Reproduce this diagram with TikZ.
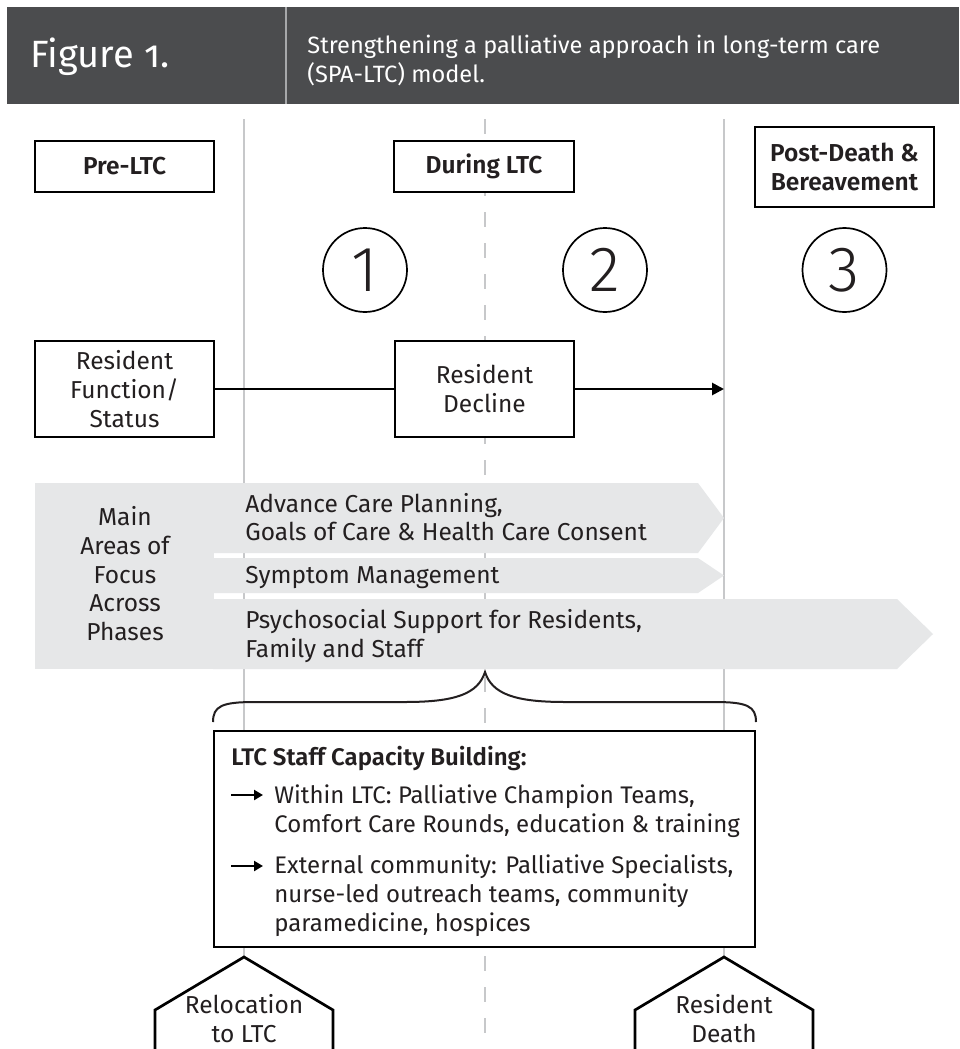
\documentclass[tikz,border=0pt]{standalone}
\usepackage{fontspec}
\setmainfont{Fira Sans}[BoldFont={Fira Sans SemiBold}]
\newfontfamily\lightfont{Fira Sans Light}
\usetikzlibrary{arrows.meta}
\definecolor{hdr}{HTML}{4B4C4E}
\definecolor{vline}{HTML}{C7C8CA}
\definecolor{band}{HTML}{E6E7E8}
\definecolor{ink}{HTML}{231F20}
\definecolor{divc}{HTML}{A7A8AA}
\begin{document}
\begin{tikzpicture}[x=0.5pt,y=-0.5pt,
  txt/.style={font=\fontsize{12.25}{14.5}\selectfont, text=ink, inner sep=0pt},
  boxtxt/.style={font=\fontsize{12}{14.5}\selectfont, text=ink, inner sep=0pt, anchor=base west},
  hdrtxt/.style={font=\fontsize{11.8}{14.5}\selectfont, text=white, inner sep=0pt, anchor=base west},
  phasebox/.style={draw=black, line width=1.35pt, fill=white, font=\bfseries\fontsize{12.25}{14.5}\selectfont, text=ink, align=center, inner sep=0pt, minimum width=89.5pt},
  stagebox/.style={draw=black, line width=1.35pt, fill=white, font=\fontsize{12.25}{14.5}\selectfont, text=ink, align=center, inner sep=0pt, minimum width=89.5pt, minimum height=48pt},
  numcirc/.style={circle, draw=black, line width=0.85pt, minimum size=42pt, inner sep=0pt, font=\lightfont\fontsize{32}{32}\selectfont, text=ink},
  guide/.style={draw=vline, line width=1pt},
  thick line/.style={draw=black, line width=1.35pt},
  lefttxt/.style={txt, anchor=base west},
  midtxt/.style={txt, anchor=base}
]
\useasboundingbox (0,0) rectangle (959,1049);
\fill[white] (0,0) rectangle (959,1049);
\begin{scope}
\clip (0,0) rectangle (959,1049);

% header
\fill[hdr] (7,7) rectangle (959,104);
\coordinate (divtop) at (286,7);
\coordinate (divbot) at (286,104);
\draw[divc, line width=0.75pt] (divtop) -- (divbot);
\node[hdrtxt, font=\fontsize{19}{21}\selectfont\addfontfeatures{Numbers=OldStyle}] (fig) at (30,67) {Figure 1.};
\node[hdrtxt] (title1) at (307,53) {Strengthening a palliative approach in long-term care};
\node[hdrtxt] (title2) at (307,82) {(SPA-LTC) model.};

% guide lines
\coordinate (g1t) at (244,119); \coordinate (g1b) at (244,1060);
\coordinate (g2t) at (724,119); \coordinate (g2b) at (724,1060);
\coordinate (g3t) at (485,119); \coordinate (g3b) at (485,1060);
\draw[guide] (g1t) -- (g1b);
\draw[guide] (g2t) -- (g2b);
\draw[guide, dash pattern=on 7.5pt off 8pt] (g3t) -- (g3b);

% phase labels
\node[phasebox, minimum height=25.5pt] (pre) at (124.5,166.5) {Pre-LTC};
\node[phasebox, minimum width=90pt, minimum height=25.5pt] (during) at (484,166.5) {During LTC};
\node[phasebox, minimum height=40pt] (post) at (844.5,167) {Post-Death \&\\Bereavement};

% circled numbers
\node[numcirc] (c1) at (365,270) {1};
\node[numcirc] (c2) at (605,270) {2};
\node[numcirc] (c3) at (844.5,270) {3};

% resident boxes
\node[stagebox] (rf) at (124.5,389) {Resident\\Function/\\Status};
\node[stagebox] (rd) at (484.5,389) {Resident\\Decline};
\coordinate (deathpt) at (724,389);
\draw[thick line] (rf.east) -- (rd.west);
\draw[thick line, -{Triangle[length=6pt,width=6pt]}] (rd.east) -- (deathpt);

% focus areas
\fill[band] (35,483) rectangle (214,669);
\fill[band] (213,483) -- (698,483) -- (724,518) -- (698,553) -- (213,553) -- cycle;
\fill[band] (213,558) -- (698,558) -- (724,575.5) -- (698,593) -- (213,593) -- cycle;
\fill[band] (213,599) -- (897,599) -- (933,634) -- (897,669) -- (213,669) -- cycle;
\node[midtxt] (m1) at (125,525) {Main};
\node[midtxt] (m2) at (125,554) {Areas of};
\node[midtxt] (m3) at (125,583) {Focus};
\node[midtxt] (m4) at (125,611) {Across};
\node[midtxt] (m5) at (125,640) {Phases};
\node[lefttxt] (a1) at (245,512) {Advance Care Planning,};
\node[lefttxt] (a2) at (245,540) {Goals of Care \& Health Care Consent};
\node[lefttxt] (s1) at (245,583) {Symptom Management};
\node[lefttxt] (p1) at (245,628) {Psychosocial Support for Residents,};
\node[lefttxt] (p2) at (245,657) {Family and Staff};

% brace
\draw[ink, line width=1pt]
  (213,722) .. controls (213,706) and (222,702) .. (255,702)
  -- (405,702) .. controls (455,702) and (478,694) .. (485,672)
  .. controls (492,694) and (515,702) .. (565,702)
  -- (714,702) .. controls (747,702) and (756,706) .. (756,722);

% capacity box
\node[draw=black, line width=1.35pt, fill=white, minimum width=270.5pt, minimum height=108pt, inner sep=0pt] (cap) at (484.5,839) {};
\node[boxtxt, font=\bfseries\fontsize{12}{14.5}\selectfont] (capt) at (231,765) {LTC Staff Capacity Building:};
\coordinate (b1s) at (231,795); \coordinate (b1e) at (263,795);
\coordinate (b2s) at (231,866); \coordinate (b2e) at (263,866);
\draw[black, line width=1.2pt, -{Triangle[length=4.5pt,width=5pt]}] (b1s) -- (b1e);
\draw[black, line width=1.2pt, -{Triangle[length=4.5pt,width=5pt]}] (b2s) -- (b2e);
\node[boxtxt] (w1) at (274,803) {Within LTC: Palliative Champion Teams,};
\node[boxtxt] (w2) at (274,832) {Comfort Care Rounds, education \& training};
\node[boxtxt] (e1) at (274,873) {External community: Palliative Specialists,};
\node[boxtxt] (e2) at (274,902) {nurse-led outreach teams, community};
\node[boxtxt] (e3) at (274,931) {paramedicine, hospices};

% milestones
\fill[white] (155,1060) -- (155,1010) -- (244,957) -- (333,1010) -- (333,1060) -- cycle;
\draw[thick line] (155,1060) -- (155,1010) -- (244,957) -- (333,1010) -- (333,1060);
\fill[white] (635,1060) -- (635,1010) -- (724,957) -- (813,1010) -- (813,1060) -- cycle;
\draw[thick line] (635,1060) -- (635,1010) -- (724,957) -- (813,1010) -- (813,1060);
\node[midtxt] (r1) at (244,1013) {Relocation};
\node[midtxt] (r2) at (244,1042) {to LTC};
\node[midtxt] (d1) at (724,1013) {Resident};
\node[midtxt] (d2) at (724,1042) {Death};
\end{scope}
\end{tikzpicture}
\end{document}
